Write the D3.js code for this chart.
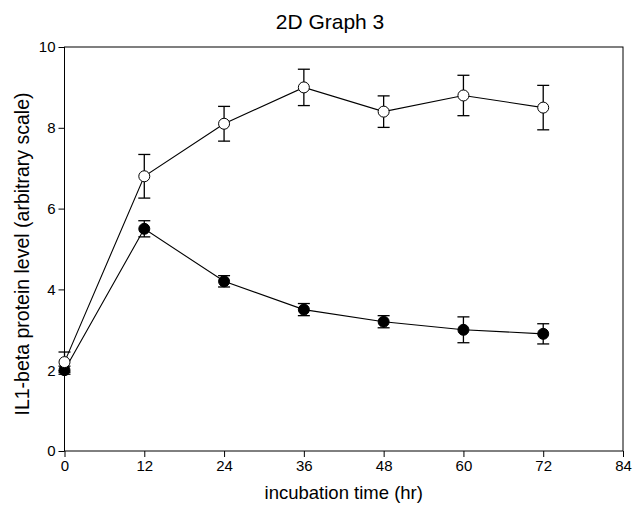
<!DOCTYPE html>
<html><head><meta charset="utf-8">
<script src="https://cdn.jsdelivr.net/npm/d3@7"></script>
<style>body{margin:0;background:#fff}svg{display:block}text{font-family:"Liberation Sans",Arial,sans-serif}</style>
</head><body><svg id="c" width="634" height="505"></svg>
<script>
const hours = [0, 12, 24, 36, 48, 60, 72];
const openValues = [2.2, 6.8, 8.1, 9.0, 8.4, 8.8, 8.5];
const openErrors = [0.25, 0.54, 0.43, 0.45, 0.39, 0.5, 0.55];
const filledValues = [2.0, 5.5, 4.2, 3.5, 3.2, 3.0, 2.9];
const filledErrors = [0.1, 0.2, 0.14, 0.15, 0.15, 0.32, 0.25];
const xTicks = [0, 12, 24, 36, 48, 60, 72, 84];
const yTicks = [0, 2, 4, 6, 8, 10];

const svg = d3.select("#c");
const L = 64.5, R = 623, T = 47, B = 451;
const x = d3.scaleLinear().domain([0, 84]).range([L, R]);
const y = d3.scaleLinear().domain([0, 10]).range([B, T]);

svg.append("text").attr("x", 330).attr("y", 29).attr("text-anchor", "middle")
  .attr("font-size", 21).text("2D Graph 3");

const gx = svg.append("g").attr("transform", `translate(0,${B})`)
  .call(d3.axisBottom(x).tickValues(xTicks).tickSize(6).tickPadding(3));
const gy = svg.append("g").attr("transform", `translate(${L},0)`)
  .call(d3.axisLeft(y).tickValues(yTicks).tickSize(6).tickPadding(3));
[gx, gy].forEach(g => {
  g.selectAll("text").attr("font-size", 15).attr("fill", "#000").attr("font-family", '"Liberation Sans",Arial,sans-serif');
  g.selectAll("line,path").attr("stroke", "#000").attr("stroke-width", 1);
});
gx.select(".domain").remove(); gy.select(".domain").remove();
svg.append("rect").attr("x", L).attr("y", T).attr("width", R - L).attr("height", B - T)
  .attr("fill", "none").attr("stroke", "#000").attr("stroke-width", 1);

svg.append("text").attr("x", (L + R) / 2).attr("y", 499).attr("text-anchor", "middle")
  .attr("font-size", 18.5).text("incubation time (hr)");
svg.append("text").attr("transform", `translate(28.5,${(T + B) / 2 + 5}) rotate(-90)`)
  .attr("text-anchor", "middle").attr("font-size", 19.5).text("IL1-beta protein level (arbitrary scale)");

const line = d3.line().x((d, i) => x(hours[i])).y(d => y(d));
function series(vals, errs, fill) {
  svg.append("path").datum(vals).attr("d", line).attr("fill", "none").attr("stroke", "#000").attr("stroke-width", 1.1);
  const g = svg.append("g");
  vals.forEach((v, i) => {
    const cx = x(hours[i]);
    const y1 = y(v + errs[i]), y2 = y(v - errs[i]);
    g.append("line").attr("x1", cx).attr("x2", cx).attr("y1", y1).attr("y2", y2).attr("stroke", "#000").attr("stroke-width", 1.3);
    [y1, y2].forEach(yy => g.append("line").attr("x1", cx - 6).attr("x2", cx + 6).attr("y1", yy).attr("y2", yy).attr("stroke", "#000").attr("stroke-width", 1.3));
  });
  g.selectAll("circle").data(vals).enter().append("circle")
    .attr("cx", (d, i) => x(hours[i])).attr("cy", d => y(d)).attr("r", 5.5)
    .attr("fill", fill).attr("stroke", "#000").attr("stroke-width", 1);
}
series(filledValues, filledErrors, "#000");
series(openValues, openErrors, "#fff");
</script></body></html>
